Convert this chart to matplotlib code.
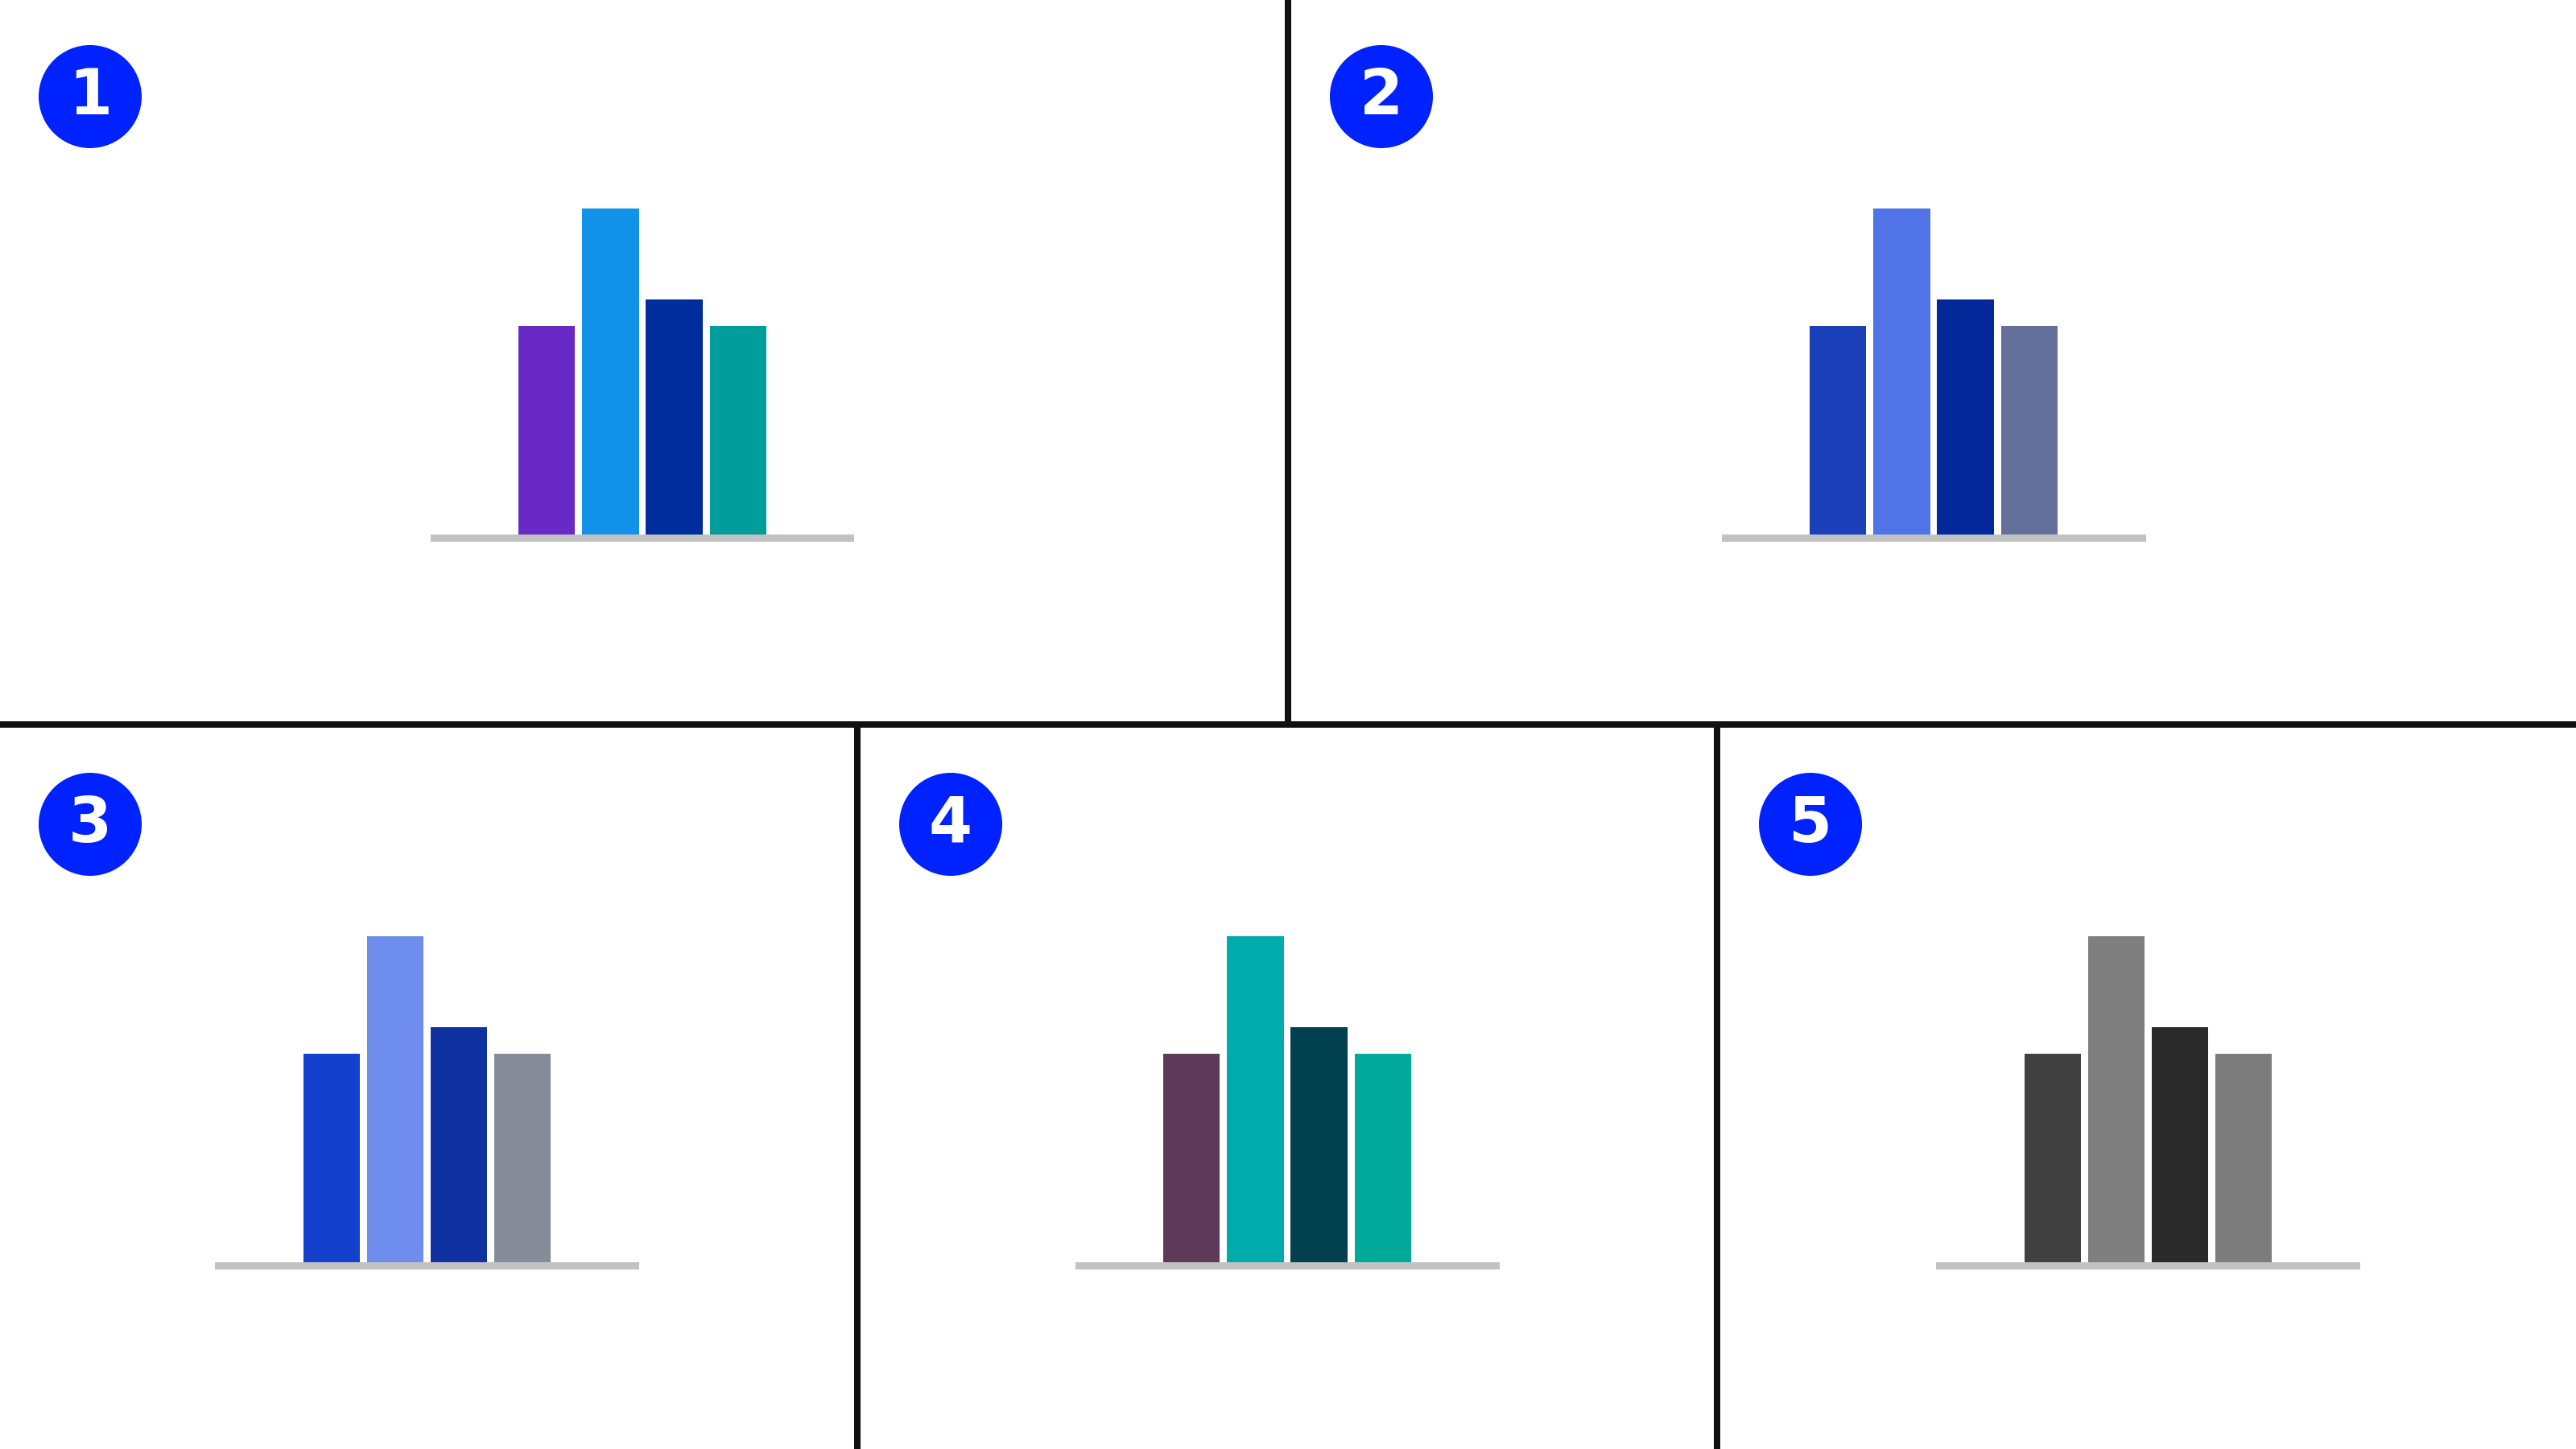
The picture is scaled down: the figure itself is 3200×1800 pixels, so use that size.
import matplotlib
matplotlib.use("Agg")
import matplotlib.pyplot as plt
from matplotlib.patches import Circle, Rectangle

# bar heights (same in every panel)
values = [64, 100, 72, 64]

# badge numbers of the five panels
labels = ["1", "2", "3", "4", "5"]

# colours of each panel
colors_1 = ["#6929c4", "#1192e8", "#002d9c", "#009d9a"]
colors_2 = ["#1b3fb8", "#5073e6", "#03289a", "#647099"]
colors_3 = ["#1440ce", "#6f8ded", "#0f32a0", "#868b99"]
colors_4 = ["#5c3a58", "#00abab", "#00404f", "#00a99a"]
colors_5 = ["#414141", "#7f7f7f", "#2a2a2a", "#7d7d7d"]

W, H, DPI = 3200, 1800, 200
fig = plt.figure(figsize=(W / DPI, H / DPI), dpi=DPI)
fig.patch.set_facecolor("white")


def px_rect(x0, y0, w, h):
    # pixel box (top-left origin) -> figure fraction
    return [x0 / W, 1 - (y0 + h) / H, w / W, h / H]


# inner panel boxes: left, top, right
panels = [
    (0, 0, 1596, colors_1),
    (1604, 0, 3200, colors_2),
    (0, 904, 1061, colors_3),
    (1069, 904, 2129, colors_4),
    (2137, 904, 3200, colors_5),
]

pitch = 79.2
base_w = 527
for (left, top, right, cols), lab in zip(panels, labels):
    cx = (left + right) / 2
    # bars
    ax = fig.add_axes(px_rect(cx - base_w / 2, top + 259, base_w, 405))
    half = base_w / pitch / 2
    ax.bar(range(len(values)), values, width=0.888, color=cols)
    ax.set_xlim(1.5 - half, 1.5 + half)
    ax.set_ylim(0, max(values))
    ax.axis("off")
    # grey baseline
    bx = fig.add_axes(px_rect(cx - base_w / 2, top + 664, base_w, 9))
    bx.set_facecolor("#c2c2c2")
    bx.set_xticks([])
    bx.set_yticks([])
    for s in bx.spines.values():
        s.set_visible(False)
    # number badge
    bxc, byc = left + 112, top + 120
    fig.add_artist(Circle((bxc / DPI, (H - byc) / DPI), 64 / DPI,
                          transform=fig.dpi_scale_trans, color="#0022ff", lw=0))
    fig.text(bxc / W, 1 - byc / H, lab, color="white", fontsize=28,
             fontweight="bold", family="DejaVu Sans", ha="center", va="center")

# divider lines
dividers = [(0, 896, 3200, 8), (1596, 0, 8, 900), (1061, 900, 8, 900), (2129, 900, 8, 900)]
for x0, y0, w, h in dividers:
    fig.add_artist(Rectangle((x0 / W, 1 - (y0 + h) / H), w / W, h / H,
                             transform=fig.transFigure, color="#111111", lw=0))

fig.savefig("out.png", dpi=DPI)
